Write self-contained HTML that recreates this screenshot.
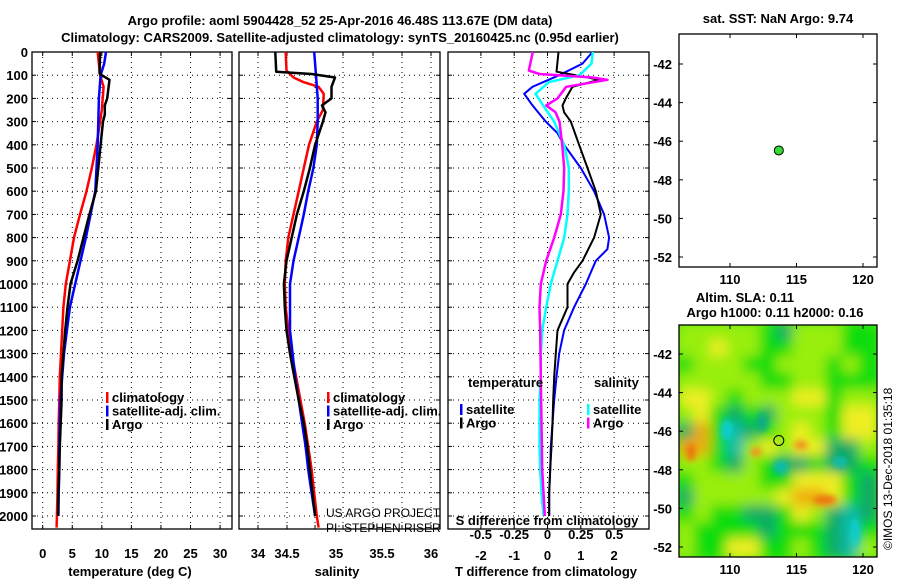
<!DOCTYPE html>
<html><head><meta charset="utf-8"><style>
body{margin:0;background:#fff;}
svg text{font-family:"Liberation Sans",sans-serif;font-weight:bold;font-size:13px;fill:#000;}
</style></head><body>
<svg id="c" width="900" height="580" viewBox="0 0 900 580">
<defs>
<filter id="bl" filterUnits="userSpaceOnUse" x="660" y="300" width="240" height="280"><feGaussianBlur stdDeviation="6"/></filter>
<filter id="bl2" filterUnits="userSpaceOnUse" x="660" y="300" width="240" height="280"><feGaussianBlur stdDeviation="3"/></filter>
<clipPath id="mapclip"><rect x="679" y="325" width="198" height="232"/></clipPath>
</defs>
<text x="340" y="25" text-anchor="middle">Argo profile: aoml 5904428_52 25-Apr-2016 46.48S 113.67E (DM data)</text>
<text x="340" y="42" text-anchor="middle">Climatology: CARS2009. Satellite-adjusted climatology: synTS_20160425.nc (0.95d earlier)</text>
<g id="g"></g>
</svg>
<script>
// ---- data ----
const tDepths = [0,100,150,250,300,400,500,600,700,800,900,1000,1100,1200,1300,1400,1500,1600,1700,1800,1900,2000,2050];
const tClim = [9.3,9.7,10.3,10.0,9.7,9.1,8.3,7.4,6.3,5.3,4.6,3.9,3.5,3.3,3.1,2.9,2.8,2.7,2.65,2.55,2.5,2.4,2.35];
const tSatDepths = [0,50,100,200,300,400,500,600,700,800,900,1000,1100,1200,1300,1400,1500,1600,1700,1800,1900,2000];
const tSat = [10.7,10.4,9.8,9.5,9.4,9.3,9.1,8.9,8.1,7.3,6.4,5.5,4.6,4.1,3.6,3.3,3.0,2.9,2.8,2.8,2.7,2.65];
const argoDepths = [0,90,100,120,200,230,270,300,400,500,600,700,800,900,950,1000,1100,1200,1300,1400,1500,1600,1700,1800,1900,2000];
const tArgo = [9.7,9.6,10.0,11.3,10.9,10.5,10.5,10.2,9.8,9.4,9.0,7.9,6.9,5.9,5.3,4.7,4.2,3.8,3.5,3.2,3.2,3.05,2.9,2.8,2.65,2.6];
const sClimDepths = [0,80,110,130,150,180,250,300,400,500,600,700,800,900,1000,1100,1200,1300,1400,1500,1600,1700,1800,1900,2000,2050];
const sClim = [34.32,34.33,34.41,34.53,34.70,34.76,34.75,34.68,34.59,34.53,34.47,34.41,34.35,34.32,34.31,34.32,34.35,34.39,34.44,34.49,34.54,34.58,34.62,34.65,34.68,34.70];
const sSatDepths = [0,100,200,300,400,500,600,700,800,900,1000,1100,1200,1300,1400,1500,1600,1700,1800,1900,2000];
const sSat = [34.65,34.67,34.69,34.69,34.68,34.64,34.58,34.53,34.47,34.41,34.37,34.37,34.37,34.40,34.43,34.47,34.51,34.55,34.58,34.62,34.66];
const sArgoDepths = [0,85,95,110,150,200,230,260,300,400,500,600,700,800,900,1000,1100,1200,1300,1400,1500,1600,1700,1800,1900,2000];
const sArgo = [34.20,34.21,34.62,34.89,34.85,34.85,34.74,34.78,34.75,34.66,34.60,34.53,34.45,34.39,34.33,34.30,34.31,34.33,34.37,34.42,34.47,34.53,34.57,34.60,34.63,34.66];
const dTSatDepths = [0,50,100,150,180,230,300,350,400,500,600,700,800,850,900,1000,1100,1200,1300,1400,1500,1600,1700,1800,1900,2000];
const dTSat = [1.35,1.05,0.35,-0.45,-0.7,-0.45,-0.05,0.3,0.5,1.0,1.4,1.7,1.85,1.8,1.45,1.15,0.8,0.5,0.35,0.27,0.2,0.15,0.1,0.08,0.05,0.05];
const dTArgoDepths = [0,85,100,120,150,200,230,260,300,400,500,600,700,800,900,950,1000,1050,1100,1150,1200,1300,1400,1500,1600,1700,1800,1900,2000];
const dTArgo = [0.33,0.27,0.85,1.55,0.75,0.55,0.45,0.5,0.7,0.95,1.2,1.45,1.6,1.4,1.05,0.8,0.6,0.6,0.6,0.45,0.3,0.25,0.2,0.17,0.15,0.12,0.08,0.05,0.05];
const dSSatDepths = [0,50,100,130,180,250,300,400,500,600,700,800,900,1000,1100,1200,1300,1400,1500,1600,1700,1800,1900,2000];
const dSSat = [0.34,0.33,0.24,0.01,-0.09,-0.01,0.05,0.125,0.16,0.16,0.15,0.125,0.075,0.025,-0.01,-0.04,-0.05,-0.05,-0.06,-0.06,-0.06,-0.055,-0.045,-0.03];
const dSArgoDepths = [0,80,95,110,120,150,200,230,260,300,400,500,600,700,800,900,1000,1100,1200,1400,1600,1800,2000];
const dSArgo = [-0.11,-0.14,-0.06,0.34,0.45,0.14,0.075,-0.01,0.06,0.09,0.11,0.125,0.12,0.1,0.05,-0.01,-0.05,-0.06,-0.055,-0.05,-0.045,-0.04,-0.02];
const depthTicks = [0,100,200,300,400,500,600,700,800,900,1000,1100,1200,1300,1400,1500,1600,1700,1800,1900,2000];
const tTicks = [0,5,10,15,20,25,30];
const sTicks = ["34","34.5","35","35.5","36"];
const dtTicks = [-2,-1,0,1,2];
const dsTicks = ["-0.5","-0.25","0","0.25","0.5"];
const latTicks = [-42,-44,-46,-48,-50,-52];
const lonTicks = [110,115,120];
const argoPos = [113.67,-46.48];
const slaRows = [
"LLLLLGTLLLGG",
"LLYLLGGLLLGG",
"GLLLGGLLLGLG",
"LLLLLGGLLGGG",
"YYLGLLLYYGLL",
"LYGTGTLLLGYY",
"TOGCTGLYLGYY",
"OOGCLYLYYTTL",
"LLGTLGTTGTTG",
"GLLLLGGYYYGT",
"TLLLLLYOOYGT",
"GLGGTTGYLTCT",
"LGGGGTGGGTCG",
"LGGYYGGLGTCL"];

const NS='http://www.w3.org/2000/svg';
const g=document.getElementById('g');
function el(tag,attrs,parent){const e=document.createElementNS(NS,tag);for(const k in attrs)e.setAttribute(k,attrs[k]);(parent||g).appendChild(e);return e;}
function txt(x,y,s,anchor,size){const t=el('text',{x:x,y:y,'text-anchor':anchor||'middle'});if(size)t.style.fontSize=size+'px';t.textContent=s;return t;}
const yD=d=>52+d*0.232;
const TOP=52,BOT=529;
const xT=v=>42.7+v*5.913;
const xS=v=>258+(v-34)*86.5;
const xDT=v=>547.5+v*33.3;
const xDS=v=>547.5+v*133.3;

function panel(x0,x1,name){
  const r=el('rect',{x:x0,y:TOP,width:x1-x0,height:BOT-TOP,fill:'none',stroke:'#000','stroke-width':1.3});
  
  depthTicks.forEach(d=>{el('line',{x1:x0,x2:x1,y1:yD(d),y2:yD(d),stroke:'#000','stroke-width':1,'stroke-dasharray':'1,4'});
    el('line',{x1:x0,x2:x0+4,y1:yD(d),y2:yD(d),stroke:'#000'});el('line',{x1:x1-4,x2:x1,y1:yD(d),y2:yD(d),stroke:'#000'});});
}
function vgrid(xs){xs.forEach(x=>{el('line',{x1:x,x2:x,y1:TOP,y2:BOT,stroke:'#000','stroke-width':1,'stroke-dasharray':'1,4'});
  el('line',{x1:x,x2:x,y1:BOT-4,y2:BOT,stroke:'#000'});el('line',{x1:x,x2:x,y1:TOP,y2:TOP+4,stroke:'#000'});});}
function line(depths,vals,xf,color,name,w){
  const p=el('polyline',{points:depths.map((d,i)=>xf(vals[i]).toFixed(1)+','+yD(d).toFixed(1)).join(' '),fill:'none',stroke:color,'stroke-width':w||2.5,'stroke-linejoin':'round'});
  }

// panel 1
panel(32,232,'temperature-panel');
vgrid(tTicks.map(xT));
depthTicks.forEach(d=>{const t=txt(28,yD(d)+5,String(d),'end');});
tTicks.forEach(v=>txt(xT(v),558,String(v)));
txt(130,576,'temperature (deg C)');
line(tDepths,tClim,xT,'#f00','temp-climatology-line');
line(tSatDepths,tSat,xT,'#00f','temp-satellite-line');
line(argoDepths,tArgo,xT,'#000','temp-argo-line');
function legend(x,y,items,name){const lg=el('g',{});
  items.forEach((it,i)=>{el('rect',{x:x,y:y+i*13.5-10,width:2.5,height:11,fill:it[1]},lg);const t=el('text',{x:x+6,y:y+i*13.5},lg);t.textContent=it[0];});}
legend(106,402,[['climatology','#f00'],['satellite-adj. clim.','#00f'],['Argo','#000']],'temperature-legend');

// panel 2
panel(239,440,'salinity-panel');
vgrid([258,287,315,343,373,402,431]);
const sLabelX=[258,287,336,382,431];
sTicks.forEach((s,i)=>txt(sLabelX[i],558,s));
txt(337,576,'salinity');
line(sClimDepths,sClim,xS,'#f00','sal-climatology-line');
line(sSatDepths,sSat,xS,'#00f','sal-satellite-line');
line(sArgoDepths,sArgo,xS,'#000','sal-argo-line');
legend(327,402,[['climatology','#f00'],['satellite-adj. clim.','#00f'],['Argo','#000']],'salinity-legend');
const c1=txt(326,517,'US ARGO PROJECT','start');c1.style.fontWeight='normal';c1.style.fontSize='12px';
const c2=txt(326,532,'PI: STEPHEN RISER','start');c2.style.fontWeight='normal';c2.style.fontSize='12px';

// panel 3
panel(448,649,'difference-panel');
vgrid(dtTicks.map(xDT));
dtTicks.forEach(v=>txt(xDT(v),560,String(v)));
txt(546,576,'T difference from climatology');
txt(547,525,'S difference from climatology');
dsTicks.forEach(s=>txt(xDS(parseFloat(s)),539,s));
line(dTSatDepths,dTSat,xDT,'#00f','dt-satellite-line',2);
line(dTArgoDepths,dTArgo,xDT,'#000','dt-argo-line',2);
line(dSSatDepths,dSSat,xDS,'#0ff','ds-satellite-line',2.5);
line(dSArgoDepths,dSArgo,xDS,'#f0f','ds-argo-line',2.5);
txt(468,387,'temperature','start');
legend(460,414,[['satellite','#00f'],['Argo','#000']],'dt-legend');
txt(594,387,'salinity','start');
legend(587,414,[['satellite','#0ff'],['Argo','#f0f']],'ds-legend');

// maps
const xLon=v=>730+(v-110)*13.3;
function mapAxes(y0,y1,latY,name){
  const r=el('rect',{x:679,y:y0,width:198,height:y1-y0,fill:'none',stroke:'#000','stroke-width':1.3});
  
  latTicks.forEach(l=>{const y=latY(l);el('line',{x1:679,x2:683,y1:y,y2:y,stroke:'#000'});el('line',{x1:873,x2:877,y1:y,y2:y,stroke:'#000'});txt(672,y+5,String(l),'end');});
  lonTicks.forEach(l=>{const x=xLon(l);el('line',{x1:x,x2:x,y1:y1-4,y2:y1,stroke:'#000'});el('line',{x1:x,x2:x,y1:y0,y2:y0+4,stroke:'#000'});txt(x,y1+17,String(l));});
}
const lat1=l=>64+(-42-l)*19.3;
const lat2=l=>354+(-42-l)*19.3;
txt(778,23,'sat. SST: NaN Argo: 9.74');
mapAxes(34,267,lat1,'sst-map');
const dot=el('circle',{cx:xLon(argoPos[0]),cy:lat1(argoPos[1]),r:4.5,fill:'#3d3',stroke:'#000','stroke-width':1});


txt(745,302,'Altim. SLA: 0.11');
txt(775,317,'Argo h1000: 0.11 h2000: 0.16');
// SLA field
const field=el('g',{'clip-path':'url(#mapclip)'});

const cols={G:'#11dd11',L:'#99ee11',Y:'#eeee22',O:'#eeaa11',T:'#11aa66',C:'#11bbaa',D:'#11bb44'};
el('rect',{x:679,y:325,width:198,height:232,fill:'#55e611'},field);
const fb=el('g',{filter:'url(#bl)'},field);
const cw=198/12,ch=232/14;
slaRows.forEach((row,r)=>{[...row].forEach((c,k)=>{
  el('rect',{x:(679+k*cw-2).toFixed(1),y:(325+r*ch-2).toFixed(1),width:(cw+4).toFixed(1),height:(ch+4).toFixed(1),fill:cols[c]},fb);});});
const fc=el('g',{filter:'url(#bl2)'},field);
[['#ee7711',691,452,5,9],['#ee7711',825,500,12,5],['#ee9922',756,452,6,5],['#ee9922',801,445,7,5],
 ['#11cccc',727,430,6,10],['#11bbaa',781,467,7,7],['#11bbaa',840,462,7,6],['#11cccc',855,532,5,14],['#11aa88',762,423,5,9]]
 .forEach(b=>el('ellipse',{fill:b[0],cx:b[1],cy:b[2],rx:b[3],ry:b[4]},fc));
mapAxes(325,557,lat2,'sla-map');
const ring=el('circle',{cx:xLon(argoPos[0]),cy:lat2(argoPos[1]),r:5,fill:'none',stroke:'#000','stroke-width':1});

const cp=el('text',{x:0,y:0,transform:'translate(892,550) rotate(-90)'});cp.style.fontWeight='normal';cp.style.fontSize='12px';cp.textContent='©IMOS 13-Dec-2018 01:35:18';
</script>
</body></html>
